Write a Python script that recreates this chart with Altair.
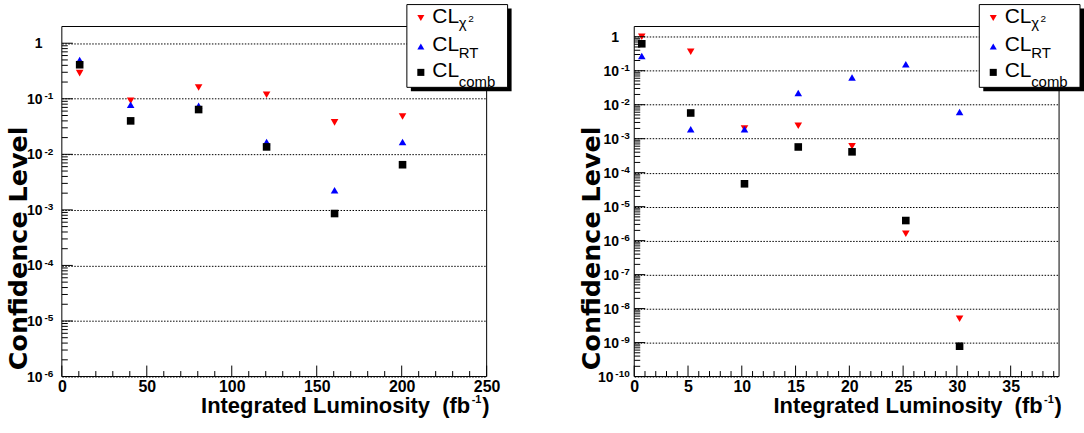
import altair as alt
import pandas as pd

# ---------------- data ----------------
series_names = ["chi2", "rt", "comb"]
series_colors = ["#ff0000", "#0000ff", "#000000"]
series_shapes = ["triangle-down", "triangle-up", "square"]

# left panel
lumi_left = [10.5, 40.5, 80.5, 120.5, 160.5, 200.5]
cl_chi2_left = [0.29, 0.092, 0.16, 0.118, 0.0376, 0.048]
cl_rt_left = [0.50, 0.078, 0.075, 0.0167, 0.00226, 0.0167]
cl_comb_left = [0.41, 0.040, 0.064, 0.0136, 0.00086, 0.0065]

# right panel
lumi_right = [0.7, 5.25, 10.25, 15.25, 20.25, 25.25, 30.25]
cl_chi2_right = [1.0, 0.36, 0.0020, 0.0024, 6.0e-4, 1.6e-6, 5.0e-9]
cl_rt_right = [0.27, 0.0019, 0.0019, 0.022, 0.063, 0.155, 0.0061]
cl_comb_right = [0.62, 0.0057, 4.7e-5, 5.7e-4, 4.1e-4, 3.9e-6, 7.8e-10]

# axes
x_major_left = [0, 50, 100, 150, 200, 250]
x_minor_left = [10, 20, 30, 40, 60, 70, 80, 90, 110, 120, 130, 140,
                160, 170, 180, 190, 210, 220, 230, 240]
x_major_right = [0, 5, 10, 15, 20, 25, 30, 35]
x_minor_right = [v for v in range(0, 40) if v % 5 != 0]

y_dec_left = [1, 1e-1, 1e-2, 1e-3, 1e-4, 1e-5, 1e-6]
y_base_left = ["1", "10", "10", "10", "10", "10", "10"]
y_exp_left = ["", "-1", "-2", "-3", "-4", "-5", "-6"]
y_dec_right = [1, 1e-1, 1e-2, 1e-3, 1e-4, 1e-5, 1e-6, 1e-7, 1e-8, 1e-9, 1e-10]
y_base_right = ["1", "10", "10", "10", "10", "10", "10", "10", "10", "10", "10"]
y_exp_right = ["", "-1", "-2", "-3", "-4", "-5", "-6", "-7", "-8", "-9", "-10"]

x_title_parts = ["Integrated Luminosity\u00a0 (fb", "-1", ")"]
y_title = "Confidence Level"

legend_main = ["CL", "CL", "CL"]
legend_sub = ["χ", "RT", "comb"]
legend_sup = ["2", "", ""]

# ---------------- styling ----------------
W, H = 426, 351
FONT = "Liberation Sans, Arial, Helvetica, sans-serif"
YT_FONT = "DejaVu Sans, Verdana, sans-serif"
one = pd.DataFrame({"k": [0]})


def minor_decades(lo_exp, hi_val):
    out = []
    for e in range(lo_exp, 1):
        for m in range(2, 10):
            v = m * 10.0 ** e
            if v < hi_val:
                out.append(v)
    return out


def panel(lumi, chi2, rt, comb, xdomain, xmajor, xminor, ydomain, ydec, ybase, yexp,
          yminor, lab_gap):
    rows = []
    for name, vals in zip(series_names, [chi2, rt, comb]):
        for x, y in zip(lumi, vals):
            rows.append({"lumi": x, "cl": y, "series": name})
    df = pd.DataFrame(rows)

    xs = alt.Scale(domain=xdomain, nice=False, zero=False)
    ys = alt.Scale(type="log", domain=ydomain, nice=False)

    xaxis = alt.Axis(
        values=xmajor, format="d", grid=False, ticks=False, domain=False,
        labelFont=FONT, labelFontSize=16, labelFontWeight="bold", labelColor="black",
        labelPadding=2, labelFlush=False, labelOverlap=False, title=None,
    )
    yaxis = alt.Axis(
        values=ydec, grid=True, labels=False,
        gridColor="black", gridOpacity=1, gridDash=[1.5, 1.5], gridWidth=1,
        ticks=False, domain=False,
        title=y_title, titleFont=YT_FONT, titleFontSize=25.5, titleFontWeight="bold",
        titleColor="black", titleAngle=270, titleX=-35, titleY=222,
        titleAlign="center", titleBaseline="alphabetic",
    )

    pts = alt.Chart(df).mark_point(filled=True, opacity=1, size=58).encode(
        x=alt.X("lumi:Q", scale=xs, axis=xaxis),
        y=alt.Y("cl:Q", scale=ys, axis=yaxis),
        color=alt.Color("series:N", scale=alt.Scale(domain=series_names, range=series_colors), legend=None),
        shape=alt.Shape("series:N", scale=alt.Scale(domain=series_names, range=series_shapes), legend=None),
    )

    def xt(vals, ln):
        return alt.Chart(pd.DataFrame({"v": vals})).mark_rule(color="black", strokeWidth=1).encode(
            x=alt.X("v:Q", scale=xs, axis=xaxis), y=alt.value(H), y2=alt.value(H - ln))

    def yt(vals, ln):
        return alt.Chart(pd.DataFrame({"v": vals})).mark_rule(color="black", strokeWidth=1).encode(
            y=alt.Y("v:Q", scale=ys, axis=yaxis), x=alt.value(0), x2=alt.value(ln))

    # y tick labels as text: "10" with raised exponent
    ldf = pd.DataFrame({"v": ydec, "base": ybase, "exp": yexp})
    ldf["n"] = ldf["exp"].str.len()
    ylabels = []
    ylabels.append(alt.Chart(ldf).mark_text(
        align="right", baseline="alphabetic", dy=0.5, font=FONT, fontSize=10,
        fontWeight="bold", color="black"
    ).encode(y=alt.Y("v:Q", scale=ys, axis=yaxis), x=alt.value(-lab_gap), text="exp:N"))
    for n in sorted(ldf["n"].unique()):
        sub = ldf[ldf["n"] == n]
        shift = 5.4 * (n if n > 0 else 2)
        ylabels.append(alt.Chart(sub).mark_text(
            align="right", baseline="alphabetic", dy=5, font=FONT, fontSize=14,
            fontWeight="bold", color="black"
        ).encode(y=alt.Y("v:Q", scale=ys, axis=yaxis), x=alt.value(-lab_gap - shift),
                 text="base:N"))

    # x-axis title with a raised exponent
    xtitle = [
        alt.Chart(one).mark_text(align="right", baseline="alphabetic", font=FONT, fontSize=22,
                                 fontWeight="bold", color="black").encode(
            x=alt.value(W - 16.5), y=alt.value(H + 37), text=alt.value(x_title_parts[0])),
        alt.Chart(one).mark_text(align="left", baseline="alphabetic", font=FONT, fontSize=11,
                                 fontWeight="bold", color="black").encode(
            x=alt.value(W - 15), y=alt.value(H + 27), text=alt.value(x_title_parts[1])),
        alt.Chart(one).mark_text(align="left", baseline="alphabetic", font=FONT, fontSize=22,
                                 fontWeight="bold", color="black").encode(
            x=alt.value(W - 4.5), y=alt.value(H + 37), text=alt.value(x_title_parts[2])),
    ]

    frame = alt.Chart(one).mark_rect(fillOpacity=0, stroke="black", strokeWidth=1).encode(
        x=alt.value(0), x2=alt.value(W), y=alt.value(0), y2=alt.value(H))

    # legend box
    bx0, bx1, by0, by1 = 346, 447, -22, 61
    shadow = alt.Chart(one).mark_rect(color="black").encode(
        x=alt.value(bx0 + 4), x2=alt.value(bx1 + 4), y=alt.value(by0 + 4), y2=alt.value(by1 + 4))
    box = alt.Chart(one).mark_rect(fill="white", stroke="black", strokeWidth=1).encode(
        x=alt.value(bx0), x2=alt.value(bx1), y=alt.value(by0), y2=alt.value(by1))
    sym_y = [-8.5, 20, 46]
    main_y = [-4, 24.5, 51]
    sub_y = [1, 32, 61]
    leg = []
    for i in range(3):
        leg.append(alt.Chart(one).mark_point(
            shape=series_shapes[i], filled=True, opacity=1, size=50, color=series_colors[i]
        ).encode(x=alt.value(bx0 + 14), y=alt.value(sym_y[i])))
        leg.append(alt.Chart(one).mark_text(
            align="left", baseline="alphabetic", font=FONT, fontSize=21, color="black"
        ).encode(x=alt.value(bx0 + 25.5), y=alt.value(main_y[i]), text=alt.value(legend_main[i])))
        leg.append(alt.Chart(one).mark_text(
            align="left", baseline="alphabetic", font=FONT, fontSize=15, color="black"
        ).encode(x=alt.value(bx0 + 52), y=alt.value(sub_y[i]), text=alt.value(legend_sub[i])))
        if legend_sup[i]:
            leg.append(alt.Chart(one).mark_text(
                align="left", baseline="alphabetic", font=FONT, fontSize=10, color="black"
            ).encode(x=alt.value(bx0 + 61.5), y=alt.value(sub_y[i] - 6), text=alt.value(legend_sup[i])))

    return alt.layer(
        pts, xt(xmajor, 11), xt(xminor, 5.5), yt(ydec, 11), yt(yminor, 6),
        *ylabels, *xtitle, frame, shadow, box, *leg
    ).properties(width=W, height=H)


left = panel(lumi_left, cl_chi2_left, cl_rt_left, cl_comb_left, [0, 250],
             x_major_left, x_minor_left, [1e-6, 2], y_dec_left, y_base_left, y_exp_left,
             minor_decades(-6, 2), 8.5)
right = panel(lumi_right, cl_chi2_right, cl_rt_right, cl_comb_right, [0, 39.5],
              x_major_right, x_minor_right, [1e-10, 2], y_dec_right, y_base_right, y_exp_right,
              minor_decades(-10, 2), 4.5)

chart = alt.hconcat(left, right, spacing=67).properties(
    padding={"left": 6, "top": 3, "right": 0, "bottom": 0}
).configure(background="white").configure_view(strokeWidth=0)

chart.save("out.html", embed_options={"renderer": "svg", "actions": False})
